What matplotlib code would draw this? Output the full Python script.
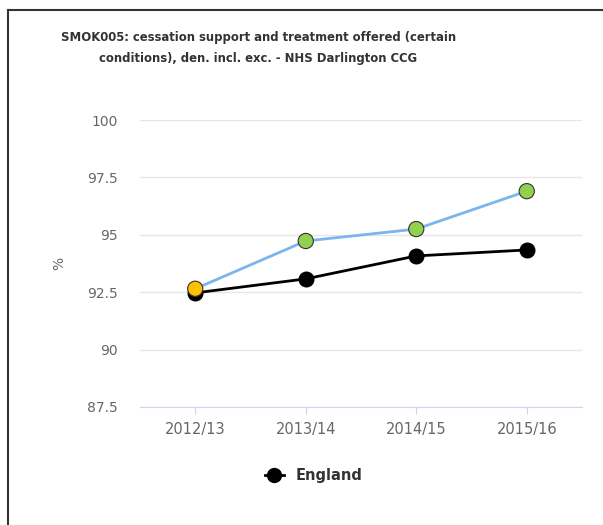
import matplotlib
matplotlib.use('Agg')
from matplotlib import pyplot as plt
from matplotlib.lines import Line2D


# chart data
periods = ['2012/13', '2013/14', '2014/15', '2015/16']
ccg_values = [92.65, 94.73, 95.25, 96.9]
england_values = [92.47, 93.08, 94.08, 94.34]
ccg_colours = ['#ffc000', '#92d050', '#92d050', '#92d050']  # first point amber, rest green
y_ticks = [87.5, 90, 92.5, 95, 97.5, 100]
y_tick_labels = ['87.5', '90', '92.5', '95', '97.5', '100']
title_text = 'SMOK005: cessation support and treatment offered (certain\nconditions), den. incl. exc. - NHS Darlington CCG'


def main() -> None:
    fig = plt.figure(figsize=(6.03, 5.25), dpi=100)
    ax = fig.add_axes([140 / 603, 118 / 525, 442 / 603, 287 / 525])
    x = list(range(len(periods)))

    # outer frame, only top and left lines are visible in the reference
    fig.add_artist(Line2D([8 / 603, 8 / 603], [0, 515 / 525], color='#333333', lw=1.5))
    fig.add_artist(Line2D([8 / 603, 1], [515 / 525, 515 / 525], color='#333333', lw=1.5))

    ax.plot(x, england_values, color='black', lw=2, marker='o', markersize=10.5,
            markerfacecolor='black', markeredgecolor='black', zorder=3)
    ax.plot(x, ccg_values, color='#7cb5ec', lw=2, zorder=4)
    ax.scatter(x, ccg_values, s=120, c=ccg_colours, edgecolors='#333333', linewidths=0.8, zorder=5)

    ax.set_xlim(-0.5, len(periods) - 0.5)
    ax.set_ylim(87.5, 100)
    ax.set_yticks(y_ticks)
    ax.set_yticklabels(y_tick_labels)
    ax.set_xticks(x)
    ax.set_xticklabels(periods)
    ax.grid(axis='y', color='#e6e6e6', lw=1)
    ax.set_axisbelow(True)
    for s in ['top', 'right', 'left']:
        ax.spines[s].set_visible(False)
    ax.spines['bottom'].set_color('#ccd6eb')
    ax.tick_params(axis='y', length=0, pad=16, labelsize=10, labelcolor='#666666')
    ax.tick_params(axis='x', length=5, color='#ccd6eb', pad=6, labelsize=10.5, labelcolor='#666666')
    ax.set_ylabel('%', color='#666666', fontsize=10, labelpad=15)

    fig.text(0.428, 0.909, title_text, ha='center', va='center', fontsize=8.4,
             fontweight='bold', color='#333333', linespacing=1.75, multialignment='center')

    handle = Line2D([], [], color='black', lw=2, marker='o', markersize=10)
    fig.legend(handles=[handle], labels=['England'], loc='center', bbox_to_anchor=(0.52, 0.095),
               frameon=False, prop={'weight': 'bold', 'size': 10.5}, handlelength=1.3,
               labelcolor='#333333')

    fig.savefig('out.png', dpi=100)


if __name__ == '__main__':
    main()
